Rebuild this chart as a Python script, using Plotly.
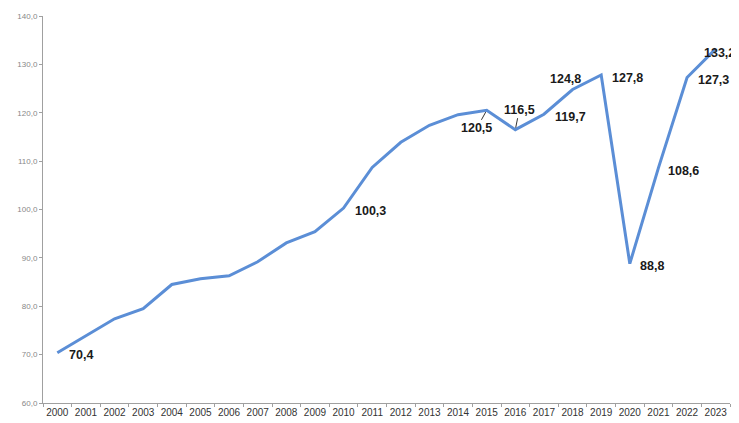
import plotly.graph_objects as go

years = [str(y) for y in range(2000, 2024)]
values = [70.4, 73.9, 77.4, 79.5, 84.5, 85.7, 86.3, 89.2, 93.1, 95.4, 100.3, 108.7,
          113.9, 117.4, 119.6, 120.5, 116.5, 119.7, 124.8, 127.8, 88.8, 108.6, 127.3, 133.2]

# labelled points: index -> (xshift, yshift, xanchor)
label_idx = [0, 10, 17, 18, 19, 20, 21, 22, 23]
label_pos = {
    0: (10, -2, "left"),
    10: (9, -3, "left"),
    17: (9, -3, "left"),
    18: (-7, 11, "center"),
    19: (9, -3, "left"),
    20: (8, -2, "left"),
    21: (8, -3, "left"),
    22: (9, -3, "left"),
    23: (-14, -4, "left"),
}
# labels with a short leader line: index -> (ax, ay)
leader_pos = {15: (-10, 18), 16: (4, -20)}

LABEL_FONT = dict(family="Liberation Sans, Arial", size=12.5, color="#1a1a1a")

fig = go.Figure()
fig.add_trace(go.Scatter(x=years, y=values, mode="lines",
                         line=dict(color="#5B8ED6", width=3), hoverinfo="skip", cliponaxis=False))

def fmt(v):
    return "<b>" + f"{v:.1f}".replace(".", ",") + "</b>"

for i in label_idx:
    xs, ys, xa = label_pos[i]
    fig.add_annotation(x=i, y=values[i], xref="x", yref="y", text=fmt(values[i]),
                       showarrow=False, xshift=xs, yshift=ys, xanchor=xa, yanchor="middle",
                       font=LABEL_FONT)

for i, (ax, ay) in leader_pos.items():
    fig.add_annotation(x=i, y=values[i], xref="x", yref="y", text=fmt(values[i]),
                       showarrow=True, arrowhead=0, arrowwidth=1, arrowcolor="#333333",
                       ax=ax, ay=ay, standoff=2, font=LABEL_FONT)

fig.update_layout(
    width=731, height=415,
    margin=dict(l=35, r=9, t=8, b=20),
    paper_bgcolor="white", plot_bgcolor="white",
    separators=",.",
    showlegend=False,
    xaxis=dict(type="category", showgrid=False, showline=True, linecolor="#a0a0a0", linewidth=1,
               ticks="outside", tickson="boundaries", ticklen=3, tickcolor="#a0a0a0",
               tickangle=0, automargin=False,
               tickfont=dict(family="Liberation Sans, Arial", size=10, color="#333333"),
               range=[-0.5, 23.5]),
    yaxis=dict(range=[60, 140], dtick=10, tickformat=".1f", showgrid=False, zeroline=False,
               showline=True, linecolor="#a0a0a0", linewidth=1, ticks="outside", ticklen=3,
               tickcolor="#a0a0a0", automargin=False,
               tickfont=dict(family="Liberation Sans, Arial", size=8, color="#888888")),
)

fig.write_html("out.html")
